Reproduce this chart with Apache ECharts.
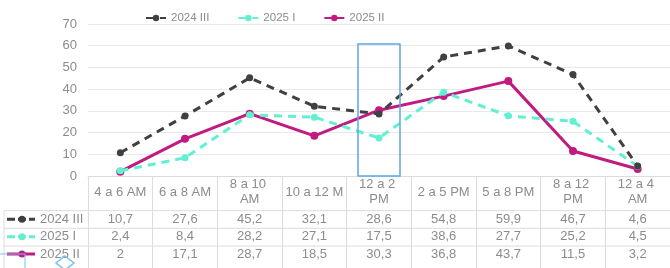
<!DOCTYPE html>
<html>
<head>
    <meta charset="utf-8">
    <title>Horario</title>
    <script src="https://cdn.jsdelivr.net/npm/echarts@6/dist/echarts.min.js"></script>
    <style type="text/css">
        html, body { margin: 0; padding: 0; background: #fff; }
        #main { width: 670px; height: 268px; }
    </style>
</head>
<body>
    <div id="main"></div>
    <script>
        // datos
        var categories = ['4 a 6 AM', '6 a 8 AM', '8 a 10 AM', '10 a 12 M', '12 a 2 PM', '2 a 5 PM', '5 a 8 PM', '8 a 12 PM', '12 a 4 AM'];
        var seriesNames = ['2024 III', '2025 I', '2025 II'];
        var s2024III = [10.7, 27.6, 45.2, 32.1, 28.6, 54.8, 59.9, 46.7, 4.6];
        var s2025I = [2.4, 8.4, 28.2, 27.1, 17.5, 38.6, 27.7, 25.2, 4.5];
        var s2025II = [2, 17.1, 28.7, 18.5, 30.3, 36.8, 43.7, 11.5, 3.2];
        var yTicks = { min: 0, max: 70, interval: 10 };
        // recuadro azul sobre la columna resaltada
        var highlightCategory = '12 a 2 PM';
        var highlightTop = 60.8;

        var seriesData = [s2024III, s2025I, s2025II];
        var colors = ['#404040', '#62f0d2', '#c11a80'];
        var lineTypes = [[8, 6], [8, 6], 'solid'];
        var textColor = '#8c8c8c';
        var borderColor = '#dcdcdc';
        var selColor = '#7cc0ee';
        var rowOffsets = [43.3, 60.7, 78];   // centro de cada fila de la tabla bajo el eje
        var rowLines = [34.7, 52.3, 70];

        function fmt(v) { return String(v).replace('.', ','); }

        var myChart = echarts.init(document.getElementById('main'));

        var xAxes = [{
            type: 'category',
            data: categories,
            boundaryGap: true,
            axisLine: { show: true, lineStyle: { color: borderColor, width: 1 } },
            axisTick: { show: true, alignWithLabel: false, length: 95, lineStyle: { color: borderColor } },
            axisLabel: {
                interval: 0, color: textColor, fontSize: 13, fontFamily: 'Liberation Sans',
                margin: 16, verticalAlign: 'middle', lineHeight: 15,
                width: 58.5, overflow: 'break'
            },
            splitLine: { show: false }
        }];
        seriesData.forEach(function (arr, i) {
            xAxes.push({
                type: 'category',
                gridIndex: 0,
                position: 'bottom',
                offset: rowOffsets[i],
                data: arr.map(fmt),
                axisLine: { show: false },
                axisTick: { show: false },
                splitLine: { show: false },
                axisLabel: { interval: 0, margin: 0, verticalAlign: 'middle', color: textColor, fontSize: 13, fontFamily: 'Liberation Sans' }
            });
        });

        var option = {
            animation: false,
            textStyle: { fontFamily: 'Liberation Sans' },
            legend: {
                left: 140, top: 7,
                itemWidth: 20, itemHeight: 8, itemGap: 28,
                textStyle: { color: textColor, fontSize: 11.5 },
                data: seriesNames
            },
            grid: { left: 88, right: -6, top: 24, bottom: 92 },
            xAxis: xAxes,
            yAxis: {
                type: 'value',
                min: yTicks.min, max: yTicks.max, interval: yTicks.interval,
                axisLine: { show: false },
                axisTick: { show: false },
                axisLabel: { color: textColor, fontSize: 13, margin: 11 },
                splitLine: { lineStyle: { color: '#e9e9e9', width: 1 } }
            },
            series: seriesNames.map(function (name, i) {
                return {
                    name: name,
                    type: 'line',
                    xAxisIndex: 0,
                    data: seriesData[i],
                    symbol: 'circle',
                    symbolSize: i === 2 ? 8 : 7,
                    color: colors[i],
                    lineStyle: { width: 3, type: lineTypes[i], color: colors[i] },
                    itemStyle: { color: colors[i] },
                    z: 3 + (2 - i)
                };
            })
        };
        myChart.setOption(option);

        // tabla de datos: lineas, leyenda de filas y recuadro
        var y0 = myChart.convertToPixel({ yAxisIndex: 0 }, 0);
        var c0 = myChart.convertToPixel({ xAxisIndex: 0 }, categories[0]);
        var c1 = myChart.convertToPixel({ xAxisIndex: 0 }, categories[1]);
        var band = c1 - c0;
        var rightEdge = myChart.convertToPixel({ xAxisIndex: 0 }, categories[categories.length - 1]) + band / 2;
        var tableLeft = 4;

        var graphics = [];
        rowLines.forEach(function (dy) {
            graphics.push({
                type: 'line', silent: true,
                shape: { x1: tableLeft, y1: y0 + dy, x2: rightEdge, y2: y0 + dy },
                style: { stroke: borderColor, lineWidth: 1 }
            });
        });
        graphics.push({
            type: 'line', silent: true,
            shape: { x1: tableLeft, y1: y0 + rowLines[0], x2: tableLeft, y2: 268 },
            style: { stroke: borderColor, lineWidth: 1 }
        });
        seriesNames.forEach(function (name, i) {
            var cy = y0 + rowOffsets[i];
            graphics.push({
                type: 'line', silent: true,
                shape: { x1: 7, y1: cy, x2: 35, y2: cy },
                style: { stroke: colors[i], lineWidth: 3, lineDash: i < 2 ? [8, 3] : null }
            });
            graphics.push({
                type: 'circle', silent: true,
                shape: { cx: 22, cy: cy, r: 3.5 },
                style: { fill: colors[i] }
            });
            graphics.push({
                type: 'text', silent: true,
                x: 40, y: cy,
                style: { text: name, fill: textColor, font: '13px "Liberation Sans"', textVerticalAlign: 'middle', verticalAlign: 'middle' }
            });
        });

        var hx = myChart.convertToPixel({ xAxisIndex: 0 }, highlightCategory);
        var hTop = myChart.convertToPixel({ yAxisIndex: 0 }, highlightTop);
        graphics.push({
            type: 'rect', silent: true, z: 10,
            shape: { x: hx - 21, y: hTop, width: 42, height: y0 - hTop },
            style: { fill: 'none', stroke: '#5aa8e8', lineWidth: 1.5 }
        });

        // marcas de seleccion en la esquina inferior izquierda
        graphics.push({
            type: 'polyline', silent: true, z: 10,
            shape: { points: [[0, y0 + 78], [25, y0 + 78], [25, 268]] },
            style: { stroke: selColor, lineWidth: 1, fill: null }
        });
        graphics.push({
            type: 'polygon', silent: true, z: 10,
            shape: { points: [[65, 256], [74, 263], [65, 270], [56, 263]] },
            style: { stroke: selColor, lineWidth: 1.5, fill: 'none' }
        });

        myChart.setOption({ graphic: graphics });
    </script>
</body>
</html>
